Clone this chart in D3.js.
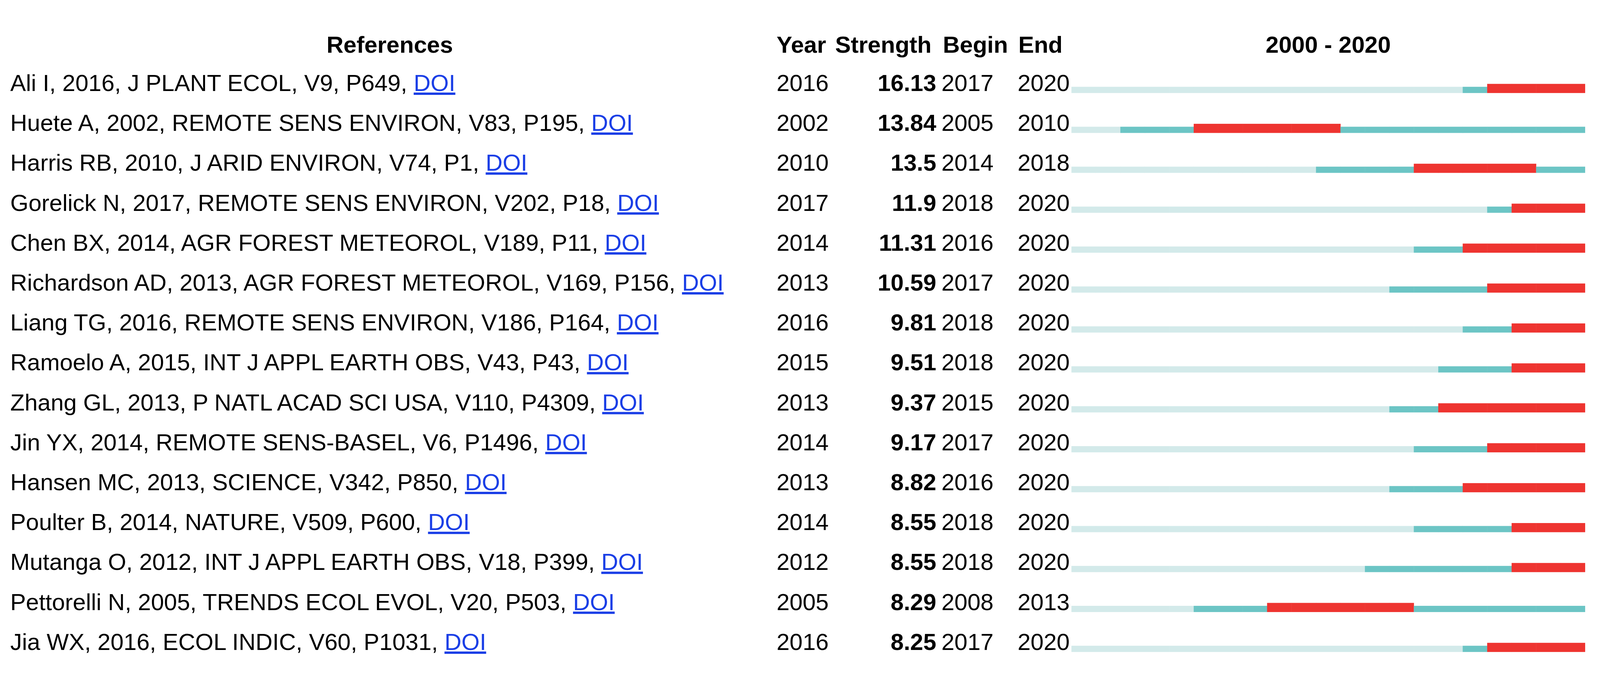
<!DOCTYPE html>
<html><head><meta charset="utf-8">
<script src="https://cdn.jsdelivr.net/npm/d3@7"></script>
<style>html,body{margin:0;height:100%;overflow:hidden;background:#fff}svg{display:block}</style></head>
<body><svg id="c" viewBox="0 0 4368 1746" preserveAspectRatio="xMidYMid meet" style="width:100vw;height:100vh"></svg>
<script>
const refs=["Ali I, 2016, J PLANT ECOL, V9, P649, ","Huete A, 2002, REMOTE SENS ENVIRON, V83, P195, ","Harris RB, 2010, J ARID ENVIRON, V74, P1, ","Gorelick N, 2017, REMOTE SENS ENVIRON, V202, P18, ","Chen BX, 2014, AGR FOREST METEOROL, V189, P11, ","Richardson AD, 2013, AGR FOREST METEOROL, V169, P156, ","Liang TG, 2016, REMOTE SENS ENVIRON, V186, P164, ","Ramoelo A, 2015, INT J APPL EARTH OBS, V43, P43, ","Zhang GL, 2013, P NATL ACAD SCI USA, V110, P4309, ","Jin YX, 2014, REMOTE SENS-BASEL, V6, P1496, ","Hansen MC, 2013, SCIENCE, V342, P850, ","Poulter B, 2014, NATURE, V509, P600, ","Mutanga O, 2012, INT J APPL EARTH OBS, V18, P399, ","Pettorelli N, 2005, TRENDS ECOL EVOL, V20, P503, ","Jia WX, 2016, ECOL INDIC, V60, P1031, "];
const years=[2016,2002,2010,2017,2014,2013,2016,2015,2013,2014,2013,2014,2012,2005,2016];
const strengths=["16.13","13.84","13.5","11.9","11.31","10.59","9.81","9.51","9.37","9.17","8.82","8.55","8.55","8.29","8.25"];
const begins=[2017,2005,2014,2018,2016,2017,2018,2018,2015,2017,2016,2018,2018,2008,2017];
const ends=[2020,2010,2018,2020,2020,2020,2020,2020,2020,2020,2020,2020,2020,2013,2020];
const timeline=d3.range(2000,2021);
const headers=["References","Year","Strength","Begin","End","2000 - 2020"];

const svg=d3.select("#c").style("font-family","'Liberation Sans',Arial,sans-serif");
const n=refs.length;
const y=d3.scalePoint().domain(d3.range(n)).range([168,1694]);
const x=d3.scaleBand().domain(timeline).range([2925,4327]);
const fs=64;

const hx=[1064,2120,2280,2574,2780,3626], ha=["middle","start","start","start","start","middle"];
headers.forEach((h,i)=>svg.append("text").attr("x",hx[i]).attr("y",64).attr("dy","0.35em")
  .attr("text-anchor",ha[i]).attr("font-weight","bold").attr("font-size",fs).text(h));

const rows=svg.selectAll("g.r").data(d3.range(n)).join("g").attr("class","r");
rows.each(function(i){
  const g=d3.select(this);
  const t=g.append("text").attr("x",28).attr("y",y(i)).attr("dy","0.35em").attr("font-size",fs);
  t.append("tspan").text(refs[i]);
  t.append("tspan").attr("fill","#1a3ee6").attr("text-decoration","underline").text("DOI");
  g.append("text").attr("x",2120).attr("y",y(i)).attr("dy","0.35em").attr("font-size",fs).text(years[i]);
  g.append("text").attr("x",2556).attr("y",y(i)).attr("dy","0.35em").attr("font-size",fs).attr("font-weight","bold").attr("text-anchor","end").text(strengths[i]);
  g.append("text").attr("x",2570).attr("y",y(i)).attr("dy","0.35em").attr("font-size",fs).text(begins[i]);
  g.append("text").attr("x",2778).attr("y",y(i)).attr("dy","0.35em").attr("font-size",fs).text(ends[i]);
  const base=y(i)+28;
  g.selectAll("rect").data(timeline).join("rect")
    .attr("x",d=>x(d)).attr("width",x.bandwidth()+0.5)
    .attr("y",d=>(d>=begins[i]&&d<=ends[i])?base-25:base-17)
    .attr("height",d=>(d>=begins[i]&&d<=ends[i])?25:17)
    .attr("fill",d=>d<years[i]?"#d3eaea":(d>=begins[i]&&d<=ends[i])?"#ee3430":"#6cc5c5");
});
</script></body></html>
